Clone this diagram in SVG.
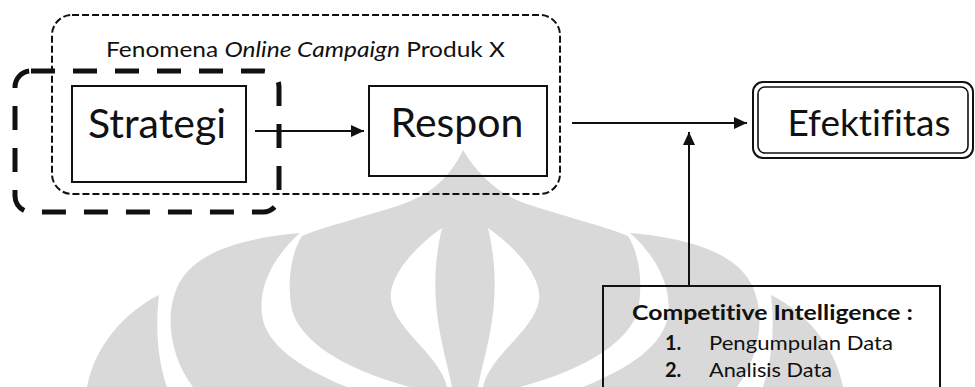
<svg xmlns="http://www.w3.org/2000/svg" width="975" height="387" viewBox="0 0 975 387">
  <defs>
    <style>
      .wm { fill: #d9d9d9; stroke: none; }
      .wmcut { fill: #ffffff; stroke: none; }
      .box { fill: none; stroke: #111; stroke-width: 2; }
      .lbl { font-family: Lato, "Open Sans", "Liberation Sans", sans-serif; fill: #111; font-variant-ligatures: none; font-feature-settings: "liga" 0, "clig" 0; }
      .big { font-size: 41px; text-anchor: middle; }
      .conn { fill: none; stroke: #111; stroke-width: 2; }
    </style>
    <marker id="arrow" markerUnits="userSpaceOnUse" markerWidth="14" markerHeight="12" refX="13" refY="6" orient="auto">
      <path d="M0,0 L13,6 L0,12 Z" fill="#111"/>
    </marker>
  </defs>
  <rect x="0" y="0" width="975" height="387" fill="#ffffff"/>

  <g id="watermark">
    <path class="wm" d="M87,387 C95,345 125,312 159,295 C156,320 156,355 167,387 Z"/>
    <path class="wm" d="M193,387 C172,360 165,320 175,293 C185,262 220,240 300,233 C275,255 258,285 262,315 C266,345 300,368 347,387 Z"/>
    <path class="wm" d="M463,150 C450,178 430,195 400,205 C360,218 320,228 302,236 C290,255 287,285 292,310 C300,340 340,368 410,387 L520,387 C590,368 630,340 638,310 C643,285 640,255 628,236 C610,228 570,218 530,205 C500,195 480,178 463,150 Z"/>
    <path class="wmcut" d="M442,228 C410,250 388,280 391,300 C395,330 440,355 447,387 L452,387 C445,350 425,300 442,228 Z"/>
    <path class="wmcut" d="M488,228 C520,250 542,280 539,300 C535,330 490,355 483,387 L478,387 C485,350 505,300 488,228 Z"/>
    <path class="wm" d="M737,387 C758,360 765,320 755,293 C745,262 710,240 630,233 C655,255 672,285 668,315 C664,345 630,368 583,387 Z"/>
    <path class="wm" d="M843,387 C835,345 805,312 771,295 C774,320 774,355 763,387 Z"/>
  </g>

  <g id="group-fenomena">
    <rect x="52" y="15" width="508" height="179" rx="20" ry="20" fill="none" stroke="#111" stroke-width="2" stroke-dasharray="7 3"/>
    <text class="lbl" x="106" y="57" font-size="21" textLength="399" lengthAdjust="spacingAndGlyphs">Fenomena <tspan font-style="italic">Online Campaign</tspan> Produk X</text>
  </g>

  <g id="group-strategi">
    <rect x="15" y="71" width="264" height="141" rx="16" ry="16" fill="none" stroke="#111" stroke-width="5" stroke-dasharray="24 18"/>
  </g>

  <g id="node-strategi">
    <rect class="box" x="72" y="86" width="174" height="96"/>
    <text class="lbl big" x="157" y="138">Strategi</text>
  </g>

  <g id="node-respon">
    <rect class="box" x="369" y="86" width="178" height="90"/>
    <text class="lbl big" x="457" y="137">Respon</text>
  </g>

  <g id="node-efektifitas">
    <rect x="753" y="82" width="220" height="76" rx="10" ry="10" fill="none" stroke="#111" stroke-width="2"/>
    <rect x="758" y="87" width="210" height="66" rx="7" ry="7" fill="none" stroke="#111" stroke-width="1.6"/>
    <text class="lbl" x="869" y="136" font-size="37" text-anchor="middle">Efektifitas</text>
  </g>

  <g id="node-ci">
    <rect class="box" x="603" y="286" width="337" height="130"/>
    <text class="lbl" x="632" y="320" font-size="21" font-weight="bold" textLength="281" lengthAdjust="spacingAndGlyphs">Competitive Intelligence :</text>
    <text class="lbl" x="665" y="350" font-size="20" font-weight="bold">1.</text>
    <text class="lbl" x="709" y="350" font-size="20" textLength="184" lengthAdjust="spacingAndGlyphs">Pengumpulan Data</text>
    <text class="lbl" x="665" y="377" font-size="20" font-weight="bold">2.</text>
    <text class="lbl" x="709" y="377" font-size="20" textLength="123" lengthAdjust="spacingAndGlyphs">Analisis Data</text>
  </g>

  <g id="connectors">
    <line class="conn" x1="255" y1="131" x2="364" y2="131" marker-end="url(#arrow)"/>
    <line class="conn" x1="572" y1="123" x2="747" y2="123" marker-end="url(#arrow)"/>
    <line class="conn" x1="689" y1="286" x2="689" y2="132" marker-end="url(#arrow)"/>
  </g>
</svg>
